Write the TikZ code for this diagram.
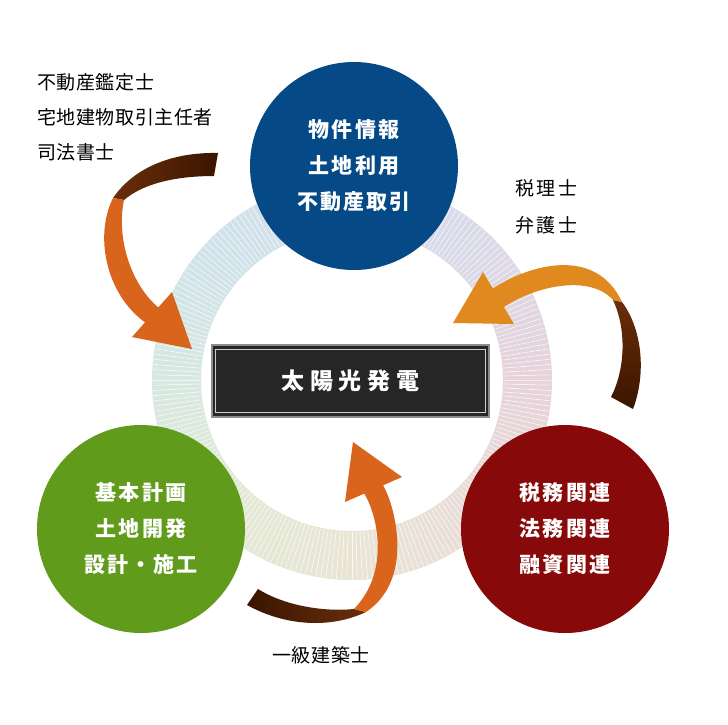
\documentclass[tikz,border=0pt]{standalone}
\usepackage{fontspec}
\setmainfont{Noto Sans CJK JP}
\newfontfamily\labelfont[LetterSpace=3]{Noto Sans CJK JP}
\newfontfamily\wlabelfont[LetterSpace=14]{Noto Sans CJK JP}
\newfontfamily\circfont[LetterSpace=10]{Noto Sans CJK JP}
\newfontfamily\boxfont[LetterSpace=24]{Noto Sans CJK JP}
\definecolor{ringE}{HTML}{E7D3DA}
\definecolor{ringSE}{HTML}{E8DBD8}
\definecolor{ringS}{HTML}{E9E5D5}
\definecolor{ringSW}{HTML}{E2E9D4}
\definecolor{ringW}{HTML}{D7E8E1}
\definecolor{ringNW}{HTML}{D0E2EA}
\definecolor{ringN}{HTML}{D5DFEA}
\definecolor{ringNE}{HTML}{DAD9E8}
\definecolor{cblue}{HTML}{054A86}
\definecolor{cgreen}{HTML}{619B1C}
\definecolor{cred}{HTML}{880909}
\definecolor{boxfill}{HTML}{262626}
\definecolor{boxedge}{HTML}{8C8C8C}
\definecolor{boxline}{HTML}{CFCFCF}
\definecolor{arrOrange}{HTML}{D9651C}
\definecolor{arrAmber}{HTML}{E0891F}
\definecolor{arrDark}{HTML}{3A1500}
\definecolor{arrDarkB}{HTML}{6A2E0A}
\newcommand\ringsector[3]{%
  \foreach \i in {0,...,29}{%
    \pgfmathsetmacro\angA{#1+\i*1.5}%
    \pgfmathsetmacro\angB{\angA+1.5}%
    \pgfmathsetmacro\mixp{100-(\i+0.5)*100/30}%
    \fill[#2!\mixp!#3] (\angA:151) -- (\angA:200) arc[start angle=\angA,end angle=\angB,radius=200] -- (\angB:151) arc[start angle=\angB,end angle=\angA,radius=151] -- cycle;
    \draw[white, line width=0.6, opacity=0.75] (\angA:152) -- (\angA:199);
  }}
\tikzset{
  lbl/.style={anchor=west, inner sep=0, text=black, font=\labelfont\fontsize{19}{19}\selectfont},
  wlbl/.style={anchor=west, inner sep=0, text=black, font=\wlabelfont\fontsize{19}{19}\selectfont},
  bigcirc/.style={circle, minimum size=208, inner sep=0, text=white, align=center, font=\circfont\bfseries\fontsize{21}{36}\selectfont},
}
\begin{document}
\begin{tikzpicture}[x=1pt,y=-1pt]
\useasboundingbox (0,0) rectangle (728,724);
\fill[white] (0,0) rectangle (728,724);
% ring
\begin{scope}[shift={(352,380)}]
  \ringsector{0}{ringE}{ringSE}
  \ringsector{45}{ringSE}{ringS}
  \ringsector{90}{ringS}{ringSW}
  \ringsector{135}{ringSW}{ringW}
  \ringsector{180}{ringW}{ringNW}
  \ringsector{225}{ringNW}{ringN}
  \ringsector{270}{ringN}{ringNE}
  \ringsector{315}{ringNE}{ringE}
\end{scope}
% circles
\node[bigcirc, fill=cblue] (blue) at (354,166) {物件情報\\土地利用\\不動産取引};
\node[bigcirc, fill=cgreen] (green) at (141,529) {基本計画\\土地開発\\設計・施工};
\node[bigcirc, fill=cred] (red) at (565,529) {税務関連\\法務関連\\融資関連};
% center box
\node[draw=boxedge, line width=1.5, fill=boxfill, minimum width=277, minimum height=72, inner sep=0,
      text=white, font=\boxfont\bfseries\fontsize{23}{23}\selectfont] (box) at (350.5,381) {太陽光発電};
\draw[boxline, line width=1] ([shift={(4,5)}]box.north west) rectangle ([shift={(-4,-5)}]box.south east);
% arrow 1 (top-left)
\shade[left color=arrDarkB, right color=arrDark] (218,153) .. controls (175,152) and (135,166) .. (113,198) -- (124,200) .. controls (145,182) and (180,176) .. (214,176) -- cycle;
\fill[arrOrange] (113,198) .. controls (94,236) and (106,295) .. (146,323) -- (159,308) .. controls (131,285) and (116,238) .. (124,200) -- cycle;
\fill[arrOrange] (132,337) -- (172,292) -- (192,349) -- cycle;
% arrow 2 (right)
\shade[top color=arrDarkB, bottom color=arrDark] (622,302) .. controls (643,330) and (646,375) .. (633,409) -- (611,397) .. controls (625,370) and (627,330) .. (613,300) -- cycle;
\fill[arrAmber] (492,289) .. controls (530,264) and (596,246) .. (622,302) -- (613,300) .. controls (590,274) and (535,286) .. (504,307) -- cycle;
\fill[arrAmber] (483,272) -- (514,324) -- (453,323) -- cycle;
% arrow 3 (bottom)
\shade[left color=arrDark, right color=arrDarkB] (366,612) .. controls (330,629) and (285,626) .. (247,605) -- (258,589) .. controls (285,606) and (325,612) .. (354,609) -- cycle;
\fill[arrOrange] (364,493) .. controls (378,516) and (390,572) .. (354,609) -- (366,612) .. controls (414,580) and (396,508) .. (383,485) -- cycle;
\fill[arrOrange] (353,442) -- (402,477) -- (345,502) -- cycle;
% labels
\node[lbl] (l1) at (37,82) {不動産鑑定士};
\node[lbl] (l2) at (37,117) {宅地建物取引主任者};
\node[lbl] (l3) at (37,152) {司法書士};
\node[wlbl] (r1) at (515,188) {税理士};
\node[wlbl] (r2) at (515,225) {弁護士};
\node[lbl, anchor=center] (b1) at (321,655) {一級建築士};
\end{tikzpicture}
\end{document}
